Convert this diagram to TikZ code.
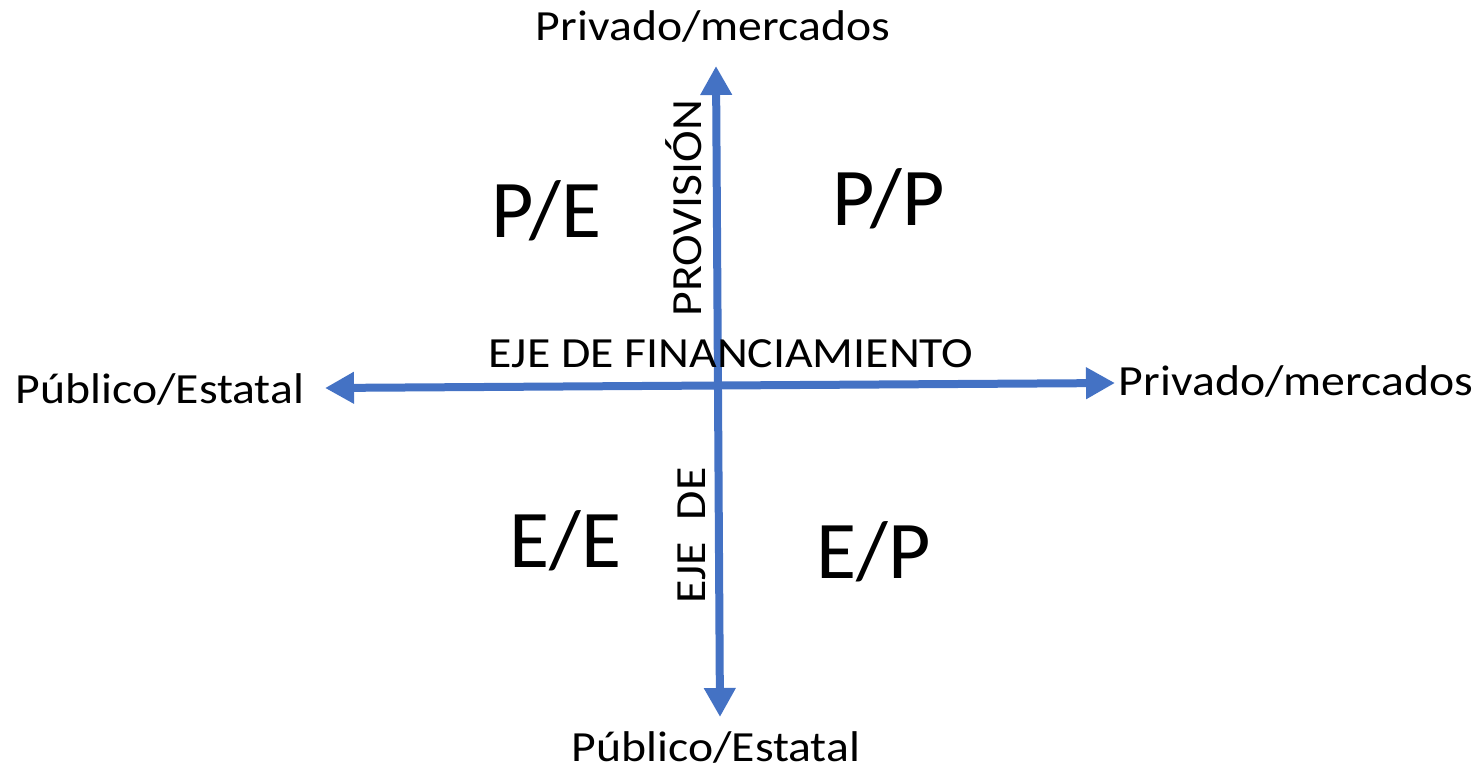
\documentclass[tikz,border=0pt]{standalone}
\usepackage{fontspec}
\setmainfont{Carlito}
\usetikzlibrary{arrows.meta}
\definecolor{axisblue}{HTML}{4472C4}
\tikzset{
  axis/.style={draw=axisblue, line width=8pt, {Triangle[width=30pt,length=29pt]}-{Triangle[width=30pt,length=29pt]}},
  lbl/.style={inner sep=0pt, anchor=base, font=\fontsize{43}{50}\selectfont},
  big/.style={inner sep=0pt, anchor=base, font=\fontsize{82}{96}\selectfont}
}
\begin{document}
\begin{tikzpicture}[x=1pt,y=-1pt]
\useasboundingbox (0,0) rectangle (1481,769);
\coordinate (vt) at (716,66);
\coordinate (vb) at (720,717);
\coordinate (hl) at (325,388);
\coordinate (hr) at (1115,383);
\draw[axis] (vb) -- (vt);
\draw[axis] (hl) -- (hr);
\node[lbl, xscale=1.11] (top) at (713,40.5) {Privado/mercados};
\node[lbl, xscale=1.11] (left) at (160,403) {Público/Estatal};
\node[lbl, xscale=1.11] (right) at (1296,395.5) {Privado/mercados};
\node[lbl, xscale=1.11] (bottom) at (716,761) {Público/Estatal};
\node[lbl, xscale=1.11] (fin) at (731,367) {EJE DE FINANCIAMIENTO};
\node[lbl, rotate=90, xscale=1.11] (prov) at (701,208) {PROVISIÓN};
\node[lbl, rotate=90, xscale=1.11] (ejede) at (705,535.5) {EJE\ \ DE};
\node[big] (pe) at (546.5,237) {P/E};
\node[big] (pp) at (888.5,225) {P/P};
\node[big] (ee) at (565.5,567) {E/E};
\node[big] (ep) at (874,578) {E/P};
\end{tikzpicture}
\end{document}
